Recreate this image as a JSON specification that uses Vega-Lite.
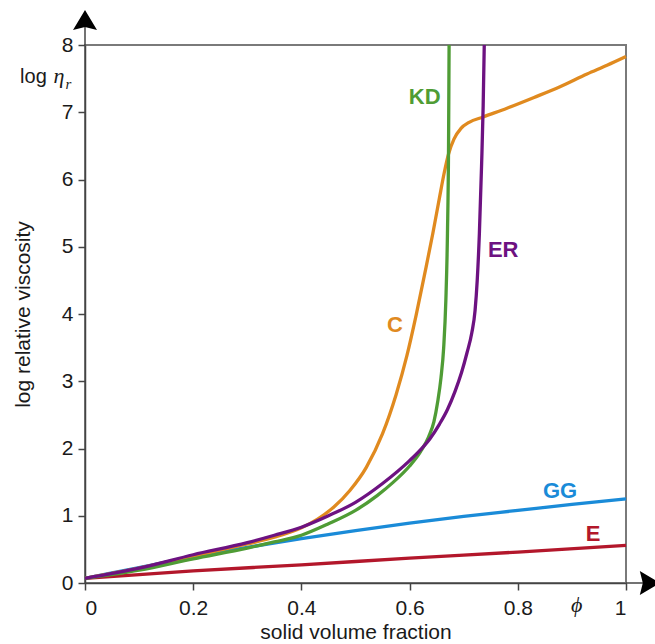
{
  "$schema": "https://vega.github.io/schema/vega-lite/v6.json",
  "width": 541,
  "height": 538,
  "autosize": "none",
  "padding": {"left": 85, "top": 45, "right": 29, "bottom": 61},
  "background": "white",
  "config": {
    "view": {"stroke": "#7a7a7a", "strokeWidth": 2},
    "font": "Liberation Sans"
  },
  "datasets": {
    "curves": [
      {"s": "E", "x": 0, "y": 0.07}, {"s": "E", "x": 0.2, "y": 0.18}, {"s": "E", "x": 0.4, "y": 0.27},
      {"s": "E", "x": 0.6, "y": 0.37}, {"s": "E", "x": 0.8, "y": 0.46}, {"s": "E", "x": 1.0, "y": 0.56},
      {"s": "GG", "x": 0, "y": 0.07}, {"s": "GG", "x": 0.1, "y": 0.23}, {"s": "GG", "x": 0.2, "y": 0.39},
      {"s": "GG", "x": 0.3, "y": 0.53}, {"s": "GG", "x": 0.4, "y": 0.66}, {"s": "GG", "x": 0.5, "y": 0.78},
      {"s": "GG", "x": 0.6, "y": 0.89}, {"s": "GG", "x": 0.7, "y": 0.99}, {"s": "GG", "x": 0.8, "y": 1.08},
      {"s": "GG", "x": 0.9, "y": 1.17}, {"s": "GG", "x": 1.0, "y": 1.25},
      {"s": "C", "x": 0, "y": 0.07}, {"s": "C", "x": 0.1, "y": 0.22}, {"s": "C", "x": 0.2, "y": 0.4},
      {"s": "C", "x": 0.3, "y": 0.58}, {"s": "C", "x": 0.35, "y": 0.68}, {"s": "C", "x": 0.4, "y": 0.82},
      {"s": "C", "x": 0.43, "y": 0.95}, {"s": "C", "x": 0.46, "y": 1.13}, {"s": "C", "x": 0.49, "y": 1.38},
      {"s": "C", "x": 0.52, "y": 1.72}, {"s": "C", "x": 0.55, "y": 2.22}, {"s": "C", "x": 0.575, "y": 2.8},
      {"s": "C", "x": 0.595, "y": 3.38}, {"s": "C", "x": 0.612, "y": 3.98}, {"s": "C", "x": 0.628, "y": 4.6},
      {"s": "C", "x": 0.643, "y": 5.2}, {"s": "C", "x": 0.655, "y": 5.72}, {"s": "C", "x": 0.664, "y": 6.1},
      {"s": "C", "x": 0.672, "y": 6.38}, {"s": "C", "x": 0.682, "y": 6.6}, {"s": "C", "x": 0.695, "y": 6.76},
      {"s": "C", "x": 0.71, "y": 6.85}, {"s": "C", "x": 0.736, "y": 6.93}, {"s": "C", "x": 0.78, "y": 7.06},
      {"s": "C", "x": 0.83, "y": 7.22}, {"s": "C", "x": 0.878, "y": 7.38}, {"s": "C", "x": 0.928, "y": 7.57},
      {"s": "C", "x": 0.965, "y": 7.7}, {"s": "C", "x": 1.0, "y": 7.83},
      {"s": "KD", "x": 0, "y": 0.07}, {"s": "KD", "x": 0.1, "y": 0.19}, {"s": "KD", "x": 0.2, "y": 0.36},
      {"s": "KD", "x": 0.3, "y": 0.52}, {"s": "KD", "x": 0.35, "y": 0.61}, {"s": "KD", "x": 0.4, "y": 0.71},
      {"s": "KD", "x": 0.45, "y": 0.88}, {"s": "KD", "x": 0.5, "y": 1.08}, {"s": "KD", "x": 0.54, "y": 1.3},
      {"s": "KD", "x": 0.57, "y": 1.5}, {"s": "KD", "x": 0.6, "y": 1.74}, {"s": "KD", "x": 0.62, "y": 1.95},
      {"s": "KD", "x": 0.635, "y": 2.17}, {"s": "KD", "x": 0.645, "y": 2.4}, {"s": "KD", "x": 0.652, "y": 2.7},
      {"s": "KD", "x": 0.658, "y": 3.05}, {"s": "KD", "x": 0.663, "y": 3.5}, {"s": "KD", "x": 0.667, "y": 4.2},
      {"s": "KD", "x": 0.67, "y": 5.2}, {"s": "KD", "x": 0.672, "y": 6.5}, {"s": "KD", "x": 0.673, "y": 8.0},
      {"s": "ER", "x": 0, "y": 0.07}, {"s": "ER", "x": 0.1, "y": 0.22}, {"s": "ER", "x": 0.2, "y": 0.42},
      {"s": "ER", "x": 0.3, "y": 0.6}, {"s": "ER", "x": 0.35, "y": 0.71}, {"s": "ER", "x": 0.4, "y": 0.83},
      {"s": "ER", "x": 0.45, "y": 1.0}, {"s": "ER", "x": 0.5, "y": 1.2}, {"s": "ER", "x": 0.55, "y": 1.48},
      {"s": "ER", "x": 0.6, "y": 1.82}, {"s": "ER", "x": 0.62, "y": 1.98}, {"s": "ER", "x": 0.638, "y": 2.15},
      {"s": "ER", "x": 0.655, "y": 2.36}, {"s": "ER", "x": 0.67, "y": 2.58}, {"s": "ER", "x": 0.684, "y": 2.85},
      {"s": "ER", "x": 0.696, "y": 3.13}, {"s": "ER", "x": 0.706, "y": 3.42}, {"s": "ER", "x": 0.715, "y": 3.72},
      {"s": "ER", "x": 0.721, "y": 4.05}, {"s": "ER", "x": 0.725, "y": 4.5}, {"s": "ER", "x": 0.729, "y": 5.2},
      {"s": "ER", "x": 0.733, "y": 6.2}, {"s": "ER", "x": 0.736, "y": 7.1}, {"s": "ER", "x": 0.738, "y": 8.0}
    ],
    "labels": [
      {"s": "KD", "x": 0.628, "y": 7.23},
      {"s": "ER", "x": 0.773, "y": 4.95},
      {"s": "C", "x": 0.573, "y": 3.84},
      {"s": "GG", "x": 0.878, "y": 1.37},
      {"s": "E", "x": 0.939, "y": 0.73}
    ]
  },
  "layer": [
    {
      "data": {"name": "curves"},
      "mark": {"type": "line", "strokeWidth": 3.3, "interpolate": "monotone"},
      "encoding": {
        "x": {
          "field": "x", "type": "quantitative",
          "scale": {"domain": [0, 1], "nice": false, "zero": false},
          "axis": {
            "values": [0, 0.2, 0.4, 0.6, 0.8, 1], "format": "~g", "grid": false,
            "domainColor": "#444", "domainWidth": 1.5, "tickColor": "#444", "tickWidth": 1.5,
            "tickSize": 7, "labelPadding": 7, "labelFontSize": 21, "labelColor": "#1a1a1a",
            "title": "solid volume fraction", "titleFontSize": 21, "titleFontWeight": "normal",
            "titleColor": "#1a1a1a", "titlePadding": 3
          }
        },
        "y": {
          "field": "y", "type": "quantitative",
          "scale": {"domain": [0, 8], "nice": false, "zero": false},
          "axis": {
            "values": [0, 1, 2, 3, 4, 5, 6, 7, 8], "format": "d", "grid": false,
            "domainColor": "#444", "domainWidth": 1.5, "tickColor": "#444", "tickWidth": 1.5,
            "tickSize": 7, "labelPadding": 5, "labelFontSize": 21, "labelColor": "#1a1a1a",
            "title": "log relative viscosity", "titleFontSize": 21, "titleFontWeight": "normal",
            "titleColor": "#1a1a1a", "titlePadding": 28
          }
        },
        "color": {
          "field": "s", "type": "nominal",
          "scale": {"domain": ["E", "GG", "C", "KD", "ER"], "range": ["#b3172b", "#1a8bd8", "#e08a1f", "#4f9c35", "#6d1281"]},
          "legend": null
        },
        "order": {"field": "y", "type": "quantitative"}
      }
    },
    {
      "data": {"name": "labels"},
      "mark": {"type": "text", "fontSize": 22, "fontWeight": "bold", "align": "center", "baseline": "middle"},
      "encoding": {
        "x": {"field": "x", "type": "quantitative"},
        "y": {"field": "y", "type": "quantitative"},
        "text": {"field": "s"},
        "color": {"field": "s", "type": "nominal", "legend": null}
      }
    },
    {
      "data": {"values": [{}]},
      "mark": {"type": "rule", "color": "#444", "strokeWidth": 1.5},
      "encoding": {"x": {"datum": 0}, "y": {"datum": 8}, "y2": {"datum": 8.3}}
    },
    {
      "data": {"values": [{}]},
      "mark": {"type": "rule", "color": "#444", "strokeWidth": 1.5},
      "encoding": {"x": {"datum": 1}, "x2": {"datum": 1.04}, "y": {"datum": 0}}
    },
    {
      "data": {"values": [{}]},
      "mark": {"type": "point", "shape": "M0,-1L1.2,1L0,0.7L-1.2,1Z", "size": 400, "filled": true, "color": "#000", "opacity": 1},
      "encoding": {"x": {"datum": 0}, "y": {"datum": 8.37}}
    },
    {
      "data": {"values": [{}]},
      "mark": {"type": "point", "shape": "M1,0L-1,1.2L-0.7,0L-1,-1.2Z", "size": 400, "filled": true, "color": "#000", "opacity": 1},
      "encoding": {"x": {"datum": 1.044}, "y": {"datum": 0}}
    },
    {
      "data": {"values": [{}]},
      "mark": {"type": "text", "fontSize": 20, "align": "left", "baseline": "alphabetic", "color": "#1a1a1a"},
      "encoding": {"x": {"datum": -0.12}, "y": {"datum": 7.43}, "text": {"value": "log"}}
    },
    {
      "data": {"values": [{}]},
      "mark": {"type": "text", "font": "Liberation Serif", "fontStyle": "italic", "fontSize": 22, "align": "left", "baseline": "alphabetic", "color": "#1a1a1a"},
      "encoding": {"x": {"datum": -0.058}, "y": {"datum": 7.43}, "text": {"value": "η"}}
    },
    {
      "data": {"values": [{}]},
      "mark": {"type": "text", "font": "Liberation Serif", "fontStyle": "italic", "fontSize": 15, "align": "left", "baseline": "alphabetic", "color": "#1a1a1a"},
      "encoding": {"x": {"datum": -0.036}, "y": {"datum": 7.35}, "text": {"value": "r"}}
    },
    {
      "data": {"values": [{}]},
      "mark": {"type": "text", "font": "Liberation Serif", "fontStyle": "italic", "fontSize": 22, "align": "center", "baseline": "middle", "color": "#1a1a1a"},
      "encoding": {"x": {"datum": 0.909}, "y": {"datum": -0.33}, "text": {"value": "ϕ"}}
    }
  ]
}
